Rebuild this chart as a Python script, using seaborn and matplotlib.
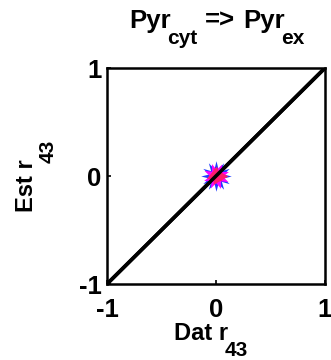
import matplotlib
matplotlib.use("Agg")
import matplotlib.pyplot as plt
from matplotlib.transforms import IdentityTransform
import seaborn as sns
import numpy as np

sns.set_theme(style="white")
plt.rcParams['font.family'] = ['Liberation Sans', 'DejaVu Sans']
plt.rcParams['font.weight'] = 'bold'

line_x = [-1, 1]
line_y = [-1, 1]
blue_x, blue_y = [0.0], [0.0]
mag_x, mag_y = [0.0], [0.0]
red_x, red_y = [0.02, -0.01], [0.0, 0.01]
ticks = [-1, 0, 1]
tick_labels = ['-1', '0', '1']

W, H = 331, 360
fig = plt.figure(figsize=(W / 100, H / 100), dpi=100)
ax = fig.add_axes([107 / W, 1 - 284 / H, 218 / W, 216 / H])

sns.lineplot(x=line_x, y=line_y, ax=ax, color='black', linewidth=2.6)
ax.plot(blue_x, blue_y, linestyle='none', marker=(12, 1, 0), markersize=22, color='#1f3bff', markeredgewidth=0)
ax.plot(mag_x, mag_y, linestyle='none', marker=(8, 1, 20), markersize=19, color='#ff00ff', markeredgewidth=0)
ax.plot(red_x[:1], red_y[:1], linestyle='none', marker=(3, 0, 30), markersize=14, color='#ff1a6e', markeredgewidth=0)
ax.plot(red_x[1:], red_y[1:], linestyle='none', marker=(3, 0, -10), markersize=13, color='#ff1a6e', markeredgewidth=0)
ax.plot(line_x, line_y, color='black', linewidth=2.6)

ax.set_xlim(-1, 1)
ax.set_ylim(-1, 1)
ax.set_xticks(ticks)
ax.set_yticks(ticks)
ax.set_xticklabels(tick_labels, fontweight='bold')
ax.set_yticklabels(tick_labels, fontweight='bold')
ax.tick_params(axis='both', direction='in', length=3, width=1.2, labelsize=18.5,
               bottom=True, left=True, top=False, right=False, colors='black')
ax.tick_params(axis='x', pad=10)
ax.tick_params(axis='y', pad=4)
for s in ax.spines.values():
    s.set_color('black')
    s.set_linewidth(1.8)

renderer = fig.canvas.get_renderer()


def rich_text(pieces, base, center, vertical=False):
    """pieces: (text, size, baseline offset px downward, gap px before)."""
    objs = []
    total = 0.0
    for txt, size, dy, gap in pieces:
        t = fig.text(0, 0, txt, fontsize=size, fontweight='bold', color='black',
                     transform=IdentityTransform(), ha='left', va='baseline',
                     rotation=90 if vertical else 0, rotation_mode='anchor')
        bb = t.get_window_extent(renderer)
        w = bb.height if vertical else bb.width
        objs.append((t, dy, gap, w))
        total += gap + w
    pos = center - total / 2
    for t, dy, gap, w in objs:
        pos += gap
        if vertical:
            t.set_position((base + dy, pos))
        else:
            t.set_position((pos, base - dy))
        pos += w


# title (display coords: origin bottom-left)
rich_text([('Pyr', 18.5, 0, 0), ('cyt', 15, 16, -4), ('=>', 18.5, 0, 8),
           ('Pyr', 18.5, 0, 8), ('ex', 15, 16, -4)], H - 28, 217)
# x label
rich_text([('Dat r', 17, 0, 0), ('43', 15, 16, -3)], H - 340, 211)
# y label
rich_text([('Est r', 17, 0, 0), ('43', 15, 21, -3)], 33, H - 176, vertical=True)

fig.savefig('out.png', dpi=100)
